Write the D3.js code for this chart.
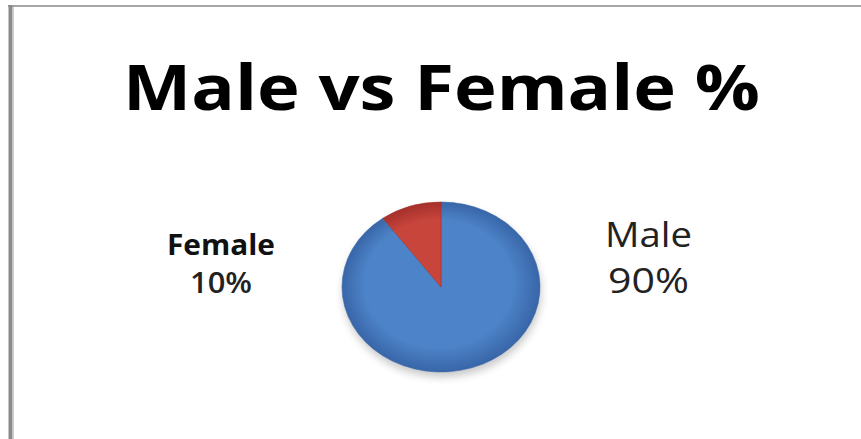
<!DOCTYPE html>
<html>
<head>
<meta charset="utf-8">
<script src="https://cdn.jsdelivr.net/npm/d3@7"></script>
<style>
  html, body { margin: 0; padding: 0; background: #ffffff; }
  svg { display: block; }
</style>
</head>
<body>
<svg id="chart" width="861" height="439"></svg>
<script>
// ---- data ----
const title = "Male vs Female %";
const categories = ["Male", "Female"];
const values = [90, 10];
const percentLabels = ["90%", "10%"];

// ---- styles ----
const baseColors = { Male: "#4d83c8", Female: "#c8453c" };
const edgeColors = { Male: "#3866a8", Female: "#a5302b" };
const fontFamily = "'Open Sans', 'Noto Sans', sans-serif";

const W = 861, H = 439;
const svg = d3.select("#chart");

// frame lines
svg.append("line").attr("x1", 8).attr("x2", W).attr("y1", 6).attr("y2", 6)
  .attr("stroke", "#a6a6a6").attr("stroke-width", 2);
svg.append("line").attr("x1", 10.5).attr("x2", 10.5).attr("y1", 5).attr("y2", H)
  .attr("stroke", "#8a8a8a").attr("stroke-width", 4);
svg.append("line").attr("x1", 13.5).attr("x2", 13.5).attr("y1", 7).attr("y2", H)
  .attr("stroke", "#d0d0d0").attr("stroke-width", 1);

// fitted text helper
function fitText(sel, targetWidth) {
  const w = sel.node().getComputedTextLength();
  if (w > 0) {
    const cx = +sel.attr("x");
    const s = targetWidth / w;
    sel.attr("transform", `translate(${cx},0) scale(${s},1) translate(${-cx},0)`);
  }
  return sel;
}

// title
const t = svg.append("text")
  .attr("x", 441.5).attr("y", 110)
  .attr("text-anchor", "middle")
  .attr("font-family", fontFamily)
  .attr("font-weight", "bold")
  .attr("font-size", 63)
  .attr("fill", "#000")
  .text(title);
fitText(t, 637);

// pie
const cx = 441, cy = 287, rx = 99, ry = 85;
const pie = d3.pie().sort(null).value(d => d.value);
const data = pie(categories.map((c, i) => ({ name: c, value: values[i], label: percentLabels[i] })));
const arc = d3.arc().innerRadius(0).outerRadius(rx);

const defs = svg.append("defs");
categories.forEach(c => {
  const g = defs.append("radialGradient")
    .attr("id", "grad-" + c)
    .attr("gradientUnits", "userSpaceOnUse")
    .attr("cx", 0).attr("cy", 0).attr("r", rx)
    .attr("fx", -10).attr("fy", -15);
  g.append("stop").attr("offset", "0%").attr("stop-color", baseColors[c]);
  g.append("stop").attr("offset", "75%").attr("stop-color", baseColors[c]);
  g.append("stop").attr("offset", "100%").attr("stop-color", edgeColors[c]);
});
const blur = defs.append("filter").attr("id", "shadow")
  .attr("x", "-20%").attr("y", "-20%").attr("width", "140%").attr("height", "150%");
blur.append("feGaussianBlur").attr("stdDeviation", 4);

// shadow
svg.append("ellipse")
  .attr("cx", cx + 1).attr("cy", cy + 5).attr("rx", rx).attr("ry", ry)
  .attr("fill", "#000").attr("opacity", 0.22).attr("filter", "url(#shadow)");

const pg = svg.append("g")
  .attr("transform", `translate(${cx},${cy}) scale(1,${ry / rx})`);
pg.selectAll("path").data(data).join("path")
  .attr("d", arc)
  .attr("fill", d => `url(#grad-${d.data.name})`)
  .attr("stroke", d => edgeColors[d.data.name])
  .attr("stroke-width", 0.6);

// labels
const labelPos = {
  Female: { x: 221, y1: 255, y2: 293, size1: 29, size2: 29, bold: true, w1: 108, w2: 62 },
  Male:   { x: 648.5, y1: 247, y2: 293, size1: 34, size2: 34, bold: false, w1: 87, w2: 81 }
};
data.forEach(d => {
  const p = labelPos[d.data.name];
  const a = svg.append("text")
    .attr("x", p.x).attr("y", p.y1).attr("text-anchor", "middle")
    .attr("font-family", fontFamily)
    .attr("font-weight", p.bold ? "bold" : "normal")
    .attr("font-size", p.size1).attr("fill", p.bold ? "#111" : "#222")
    .text(d.data.name);
  fitText(a, p.w1);
  const b = svg.append("text")
    .attr("x", p.x).attr("y", p.y2).attr("text-anchor", "middle")
    .attr("font-family", fontFamily)
    .attr("font-weight", p.bold ? 600 : "normal")
    .attr("font-size", p.size2).attr("fill", "#222")
    .text(d.data.label);
  fitText(b, p.w2);
});
</script>
</body>
</html>
